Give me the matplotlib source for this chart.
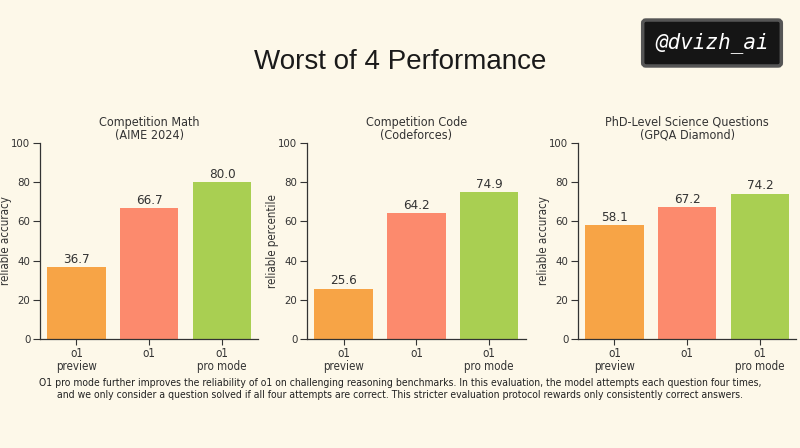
import numpy as np
import matplotlib.pyplot as plt

# data
models = ['o1\npreview', 'o1', 'o1\npro mode']
titles = ['Competition Math\n(AIME 2024)', 'Competition Code\n(Codeforces)',
          'PhD-Level Science Questions\n(GPQA Diamond)']
ylabels = ['reliable accuracy', 'reliable percentile', 'reliable accuracy']
math_vals = [36.7, 66.7, 80.0]
code_vals = [25.6, 64.2, 74.9]
gpqa_vals = [58.1, 67.2, 74.2]
yticks = [0, 20, 40, 60, 80, 100]

colors = ['#f7a446', '#fc8a6d', '#a9cf52']
bg = '#fdf8e9'
ink = '#333333'

plt.rcParams['font.stretch'] = 'condensed'

fig = plt.figure(figsize=(8, 4.48), dpi=100, facecolor=bg)

fig.text(0.5, 0.862, 'Worst of 4 Performance', ha='center', va='center',
         fontsize=20, family='Liberation Sans', stretch='normal', color='#1a1a1a')

# watermark
fig.text(0.89, 0.904, '@dvizh_ai', ha='center', va='center', fontsize=15,
         color='white', family='DejaVu Sans Mono', style='italic', stretch='normal',
         bbox=dict(boxstyle='round,pad=0.6,rounding_size=0.15', fc='#151515', ec='#555555', lw=2.5))

lefts = [0.05, 0.384, 0.7225]
for i, vals in enumerate([math_vals, code_vals, gpqa_vals]):
    ax = fig.add_axes([lefts[i], 0.2433, 0.273, 0.4375])
    ax.set_facecolor(bg)
    x = np.arange(len(models))
    bars = ax.bar(x, vals, width=0.8, color=colors)
    for b, v in zip(bars, vals):
        ax.text(b.get_x() + b.get_width() / 2, v + 0.8, f'{v:.1f}', ha='center', va='bottom',
                fontsize=9.6, color=ink)
    ax.set_xlim(-0.5, 2.5)
    ax.set_ylim(0, 100)
    ax.set_yticks(yticks)
    ax.set_xticks(x)
    ax.set_xticklabels(models, fontsize=8.3, color=ink, linespacing=1.0)
    ax.tick_params(axis='y', labelsize=8.2, colors=ink, length=5, width=0.8, pad=2)
    ax.tick_params(axis='x', length=4, width=0.8, colors=ink, pad=2)
    ax.set_ylabel(ylabels[i], fontsize=8.3, color=ink)
    ax.yaxis.set_label_coords(-0.128, 0.5)
    ax.set_title(titles[i], fontsize=9, color=ink, linespacing=1.0, pad=3)
    for s in ['top', 'right']:
        ax.spines[s].set_visible(False)
    for s in ['left', 'bottom']:
        ax.spines[s].set_color(ink)
        ax.spines[s].set_linewidth(0.9)

caption = ('O1 pro mode further improves the reliability of o1 on challenging reasoning benchmarks. '
           'In this evaluation, the model attempts each question four times,\n'
           'and we only consider a question solved if all four attempts are correct. '
           'This stricter evaluation protocol rewards only consistently correct answers.')
fig.text(0.5, 0.132, caption, ha='center', va='center', fontsize=7.45, color='#222222',
         linespacing=1.2)

fig.savefig('out.png', dpi=100, facecolor=bg)
